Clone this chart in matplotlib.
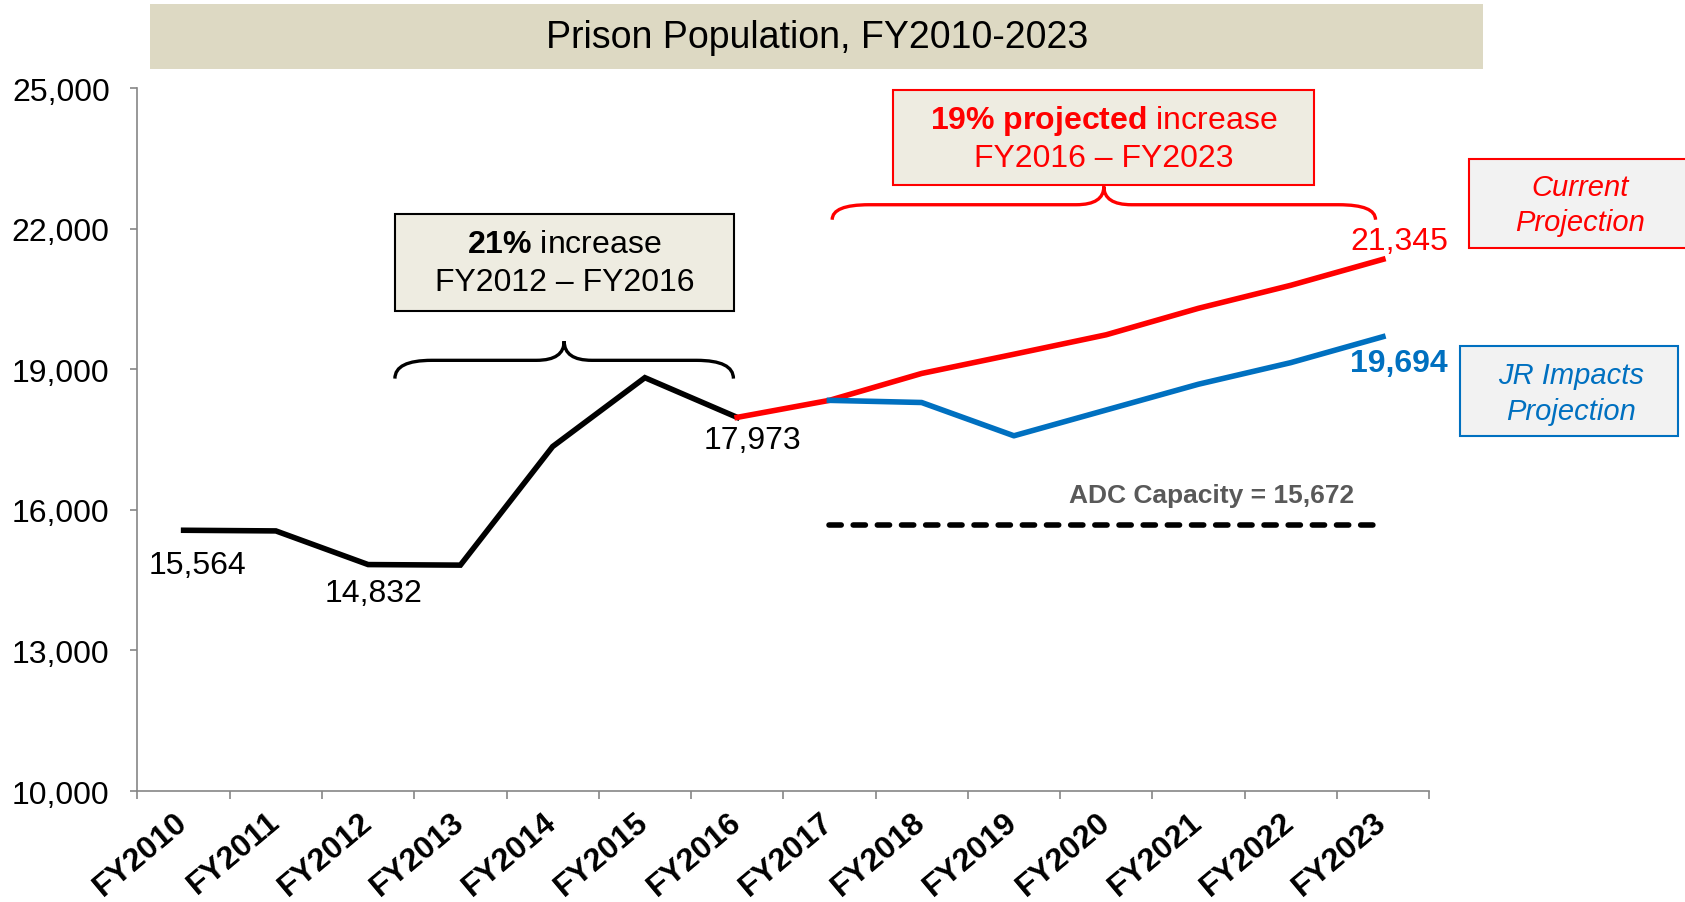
import numpy as np
import matplotlib
matplotlib.use("Agg")
import matplotlib.pyplot as plt
from matplotlib.patches import Rectangle, PathPatch
from matplotlib.path import Path

plt.rcParams['font.family'] = ['Liberation Sans', 'DejaVu Sans']
plt.rcParams['mathtext.fontset'] = 'custom'
plt.rcParams['mathtext.rm'] = 'Liberation Sans'
plt.rcParams['mathtext.bf'] = 'Liberation Sans:bold'
plt.rcParams['mathtext.it'] = 'Liberation Sans:italic'

# data
years = ["FY2010", "FY2011", "FY2012", "FY2013", "FY2014", "FY2015", "FY2016",
         "FY2017", "FY2018", "FY2019", "FY2020", "FY2021", "FY2022", "FY2023"]
actual = [15564, 15550, 14832, 14820, 17350, 18820, 17973]               # FY2010-FY2016
current = [17973, 18336, 18910, 19320, 19735, 20300, 20790, 21345]       # FY2016-FY2023
jr_impacts = [18336, 18290, 17580, 18130, 18680, 19140, 19694]           # FY2017-FY2023
capacity = 15672

RED = "#FF0000"
BLUE = "#0070C0"
GRAY = "#868686"

fig = plt.figure(figsize=(16.85, 9.03), dpi=100)
ax = fig.add_axes([0.0816, 0.1229, 0.7665, 0.7785])

x = np.arange(len(years))
x_act = x[:7]
x_cur = x[6:]
x_jr = x[7:]

ax.plot(x_act, actual, color="black", linewidth=4, solid_joinstyle="miter")
ax.plot(x_cur, current, color=RED, linewidth=4)
ax.plot(x_jr, jr_impacts, color=BLUE, linewidth=4)
ax.plot(x_jr, [capacity] * len(x_jr), color="black", linewidth=4,
        dashes=(2.2, 2.15), dash_capstyle="round")

# data labels
lab = dict(fontsize=23, ha="center", va="center", textcoords="offset pixels")
ax.annotate("15,564", (0, actual[0]), xytext=(14, -35), **lab)
ax.annotate("14,832", (2, actual[2]), xytext=(5, -28), **lab)
ax.annotate("17,973", (6, actual[6]), xytext=(15, -23), **lab)
ax.annotate("21,345", (13, current[-1]), xytext=(16, 18), color=RED, **lab)
ax.annotate("19,694", (13, jr_impacts[-1]), xytext=(16, -26), color=BLUE,
            fontweight="bold", **lab)
ax.text(11.14, 16320, "ADC Capacity = 15,672", fontsize=19, fontweight="bold",
        color="#595959", ha="center", va="center")

# axes styling
ax.set_xlim(-0.5, 13.5)
ax.set_ylim(10000, 25000)
ax.set_yticks(np.arange(10000, 25001, 3000))
ax.set_yticklabels([f"{v:,}" for v in range(10000, 25001, 3000)], fontsize=23)
ax.set_xticks(x)
ax.set_xticklabels(years, fontsize=23, fontweight="bold")
ax.set_xticks(np.arange(-0.5, 14, 1), minor=True)
ax.tick_params(axis="x", which="major", length=0, pad=19)
ax.tick_params(axis="x", which="minor", length=6, color=GRAY, width=1.2)
ax.tick_params(axis="y", length=5, color=GRAY, width=1.2, pad=15)
for t in ax.get_xticklabels():
    t.set_rotation(40)
    t.set_ha("right")
    t.set_va("center")
    t.set_rotation_mode("anchor")
for s in ["top", "right"]:
    ax.spines[s].set_visible(False)
for s in ["left", "bottom"]:
    ax.spines[s].set_color(GRAY)
    ax.spines[s].set_linewidth(1.2)


def brace(x0, x1, y_end, y_flat, y_tip, r_end, r_mid, color):
    xc = (x0 + x1) / 2
    verts = [(x0, y_end), (x0, y_flat), (x0 + r_end, y_flat),
             (xc - r_mid, y_flat),
             (xc, y_flat), (xc, y_tip),
             (xc, y_flat), (xc + r_mid, y_flat),
             (x1 - r_end, y_flat),
             (x1, y_flat), (x1, y_end)]
    codes = [Path.MOVETO, Path.CURVE3, Path.CURVE3, Path.LINETO,
             Path.CURVE3, Path.CURVE3, Path.CURVE3, Path.CURVE3,
             Path.LINETO, Path.CURVE3, Path.CURVE3]
    ax.add_patch(PathPatch(Path(verts, codes), facecolor="none", edgecolor=color,
                           linewidth=2.4, clip_on=False))


brace(2.29, 5.96, 18800, 19190, 19600, 0.4, 0.3, "black")
brace(7.03, 12.92, 22190, 22510, 22900, 0.4, 0.3, RED)


def fig_box(x0, y0, w, h, fc, ec, lw=1.5):
    fig.add_artist(Rectangle((x0, y0), w, h, transform=fig.transFigure,
                             facecolor=fc, edgecolor=ec, linewidth=lw, clip_on=False))


# title bar
fig_box(0.0893, 0.9227, 0.7909, 0.0713, "#DDD9C3", "none", 0)
fig.text(0.4847, 0.9584, "Prison Population, FY2010-2023", fontsize=27,
         ha="center", va="center")

# 21% increase box
fig_box(0.2347, 0.6549, 0.2009, 0.107, "#EEECE1", "black")
fig.text(0.3351, 0.7287, r"$\mathbf{21\%}$ increase", fontsize=23, ha="center", va="center")
fig.text(0.3351, 0.687, "FY2012 \u2013 FY2016", fontsize=23, ha="center", va="center")

# 19% projected box
fig_box(0.530, 0.7941, 0.25, 0.1048, "#EEECE1", RED)
fig.text(0.655, 0.8655, r"$\mathbf{19\%\ projected}$ increase", fontsize=23,
         color=RED, ha="center", va="center")
fig.text(0.655, 0.8239, "FY2016 \u2013 FY2023", fontsize=23, color=RED,
         ha="center", va="center")

# series boxes
fig_box(0.8718, 0.7239, 0.14, 0.0989, "#F2F2F2", RED)
fig.text(0.9375, 0.7918, "Current", fontsize=21, style="italic", color=RED,
         ha="center", va="center")
fig.text(0.9375, 0.7525, "Projection", fontsize=21, style="italic", color=RED,
         ha="center", va="center")

fig_box(0.8667, 0.5156, 0.1294, 0.1001, "#F2F2F2", BLUE)
fig.text(0.9324, 0.5835, "JR Impacts", fontsize=21, style="italic", color=BLUE,
         ha="center", va="center")
fig.text(0.9324, 0.5442, "Projection", fontsize=21, style="italic", color=BLUE,
         ha="center", va="center")

fig.savefig("out.png", dpi=100)
